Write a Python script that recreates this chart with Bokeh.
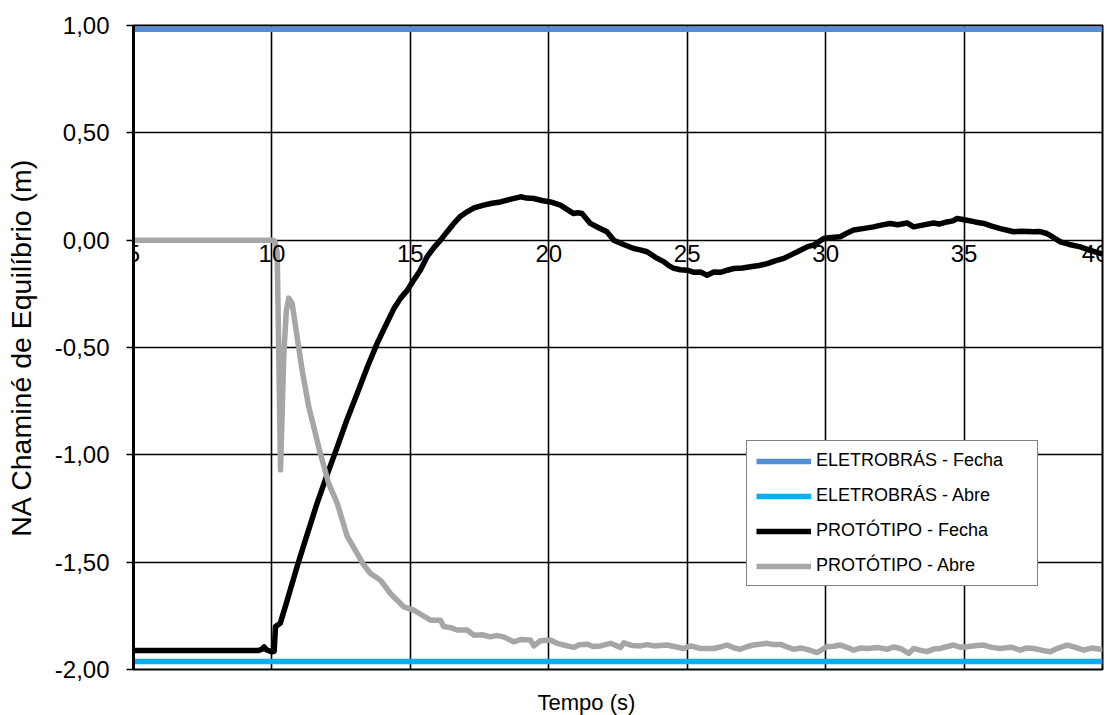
from bokeh.plotting import figure
from bokeh.models import Range1d, FixedTicker, Legend, LegendItem, Title
from bokeh.embed import file_html
from bokeh.resources import INLINE

# ---- data ----
x_ticks = [5, 10, 15, 20, 25, 30, 35, 40]
y_ticks = [-2.0, -1.5, -1.0, -0.5, 0.0, 0.5, 1.0]
y_tick_labels = ["-2,00", "-1,50", "-1,00", "-0,50", "0,00", "0,50", "1,00"]

series_names = ["ELETROBRÁS - Fecha", "ELETROBRÁS - Abre",
                "PROTÓTIPO - Fecha", "PROTÓTIPO - Abre"]

t_eletro = [5.0, 40.0]
v_eletro_fecha = [0.983, 0.983]
v_eletro_abre = [-1.963, -1.963]

t_fecha = [5.0, 9.5, 9.65, 9.72, 9.8, 10.0, 10.08, 10.13, 10.3, 10.5, 10.91, 11.25,
           11.63, 12.0, 12.36, 12.7, 13.08, 13.45, 13.8, 14.1, 14.4, 14.65, 14.88,
           15.1, 15.36, 15.6, 15.85, 16.09, 16.3, 16.57, 16.8, 17.05, 17.3, 17.65,
           17.95, 18.25, 18.6, 18.98, 19.2, 19.46, 19.75, 20.06, 20.42, 20.7, 20.9,
           21.05, 21.2, 21.5, 21.8, 22.1, 22.35, 22.7, 23.07, 23.3, 23.55, 23.85,
           24.15, 24.35, 24.5, 24.75, 25.0, 25.25, 25.48, 25.72, 25.96, 26.2, 26.45,
           26.68, 27.0, 27.28, 27.6, 27.89, 28.2, 28.49, 28.8, 29.09, 29.35, 29.57,
           29.93, 30.2, 30.53, 30.8, 31.01, 31.4, 31.73, 32.0, 32.34, 32.6, 32.94,
           33.18, 33.5, 33.9, 34.1, 34.38, 34.6, 34.75, 35.1, 35.4, 35.71, 36.0,
           36.31, 36.6, 36.79, 37.1, 37.51, 37.75, 37.99, 38.2, 38.48, 38.8, 39.2,
           39.5, 39.92, 40.0]
v_fecha = [-1.912, -1.912, -1.905, -1.895, -1.908, -1.918, -1.915, -1.80, -1.785, -1.70,
           -1.52, -1.38, -1.226, -1.09, -0.963, -0.84, -0.714, -0.59, -0.481, -0.40,
           -0.32, -0.27, -0.235, -0.19, -0.14, -0.078, -0.035, 0.0, 0.035, 0.078, 0.11,
           0.132, 0.15, 0.163, 0.172, 0.178, 0.19, 0.202, 0.196, 0.194, 0.185, 0.178,
           0.163, 0.14, 0.124, 0.128, 0.124, 0.078, 0.058, 0.039, 0.0, -0.02, -0.039,
           -0.045, -0.054, -0.08, -0.10, -0.12, -0.13, -0.138, -0.14, -0.15, -0.148,
           -0.163, -0.148, -0.15, -0.14, -0.132, -0.13, -0.124, -0.118, -0.109, -0.095,
           -0.085, -0.065, -0.047, -0.03, -0.023, 0.008, 0.012, 0.016, 0.035, 0.047,
           0.055, 0.062, 0.07, 0.078, 0.072, 0.08, 0.062, 0.07, 0.08, 0.075, 0.085,
           0.09, 0.101, 0.093, 0.085, 0.078, 0.065, 0.054, 0.045, 0.039, 0.042, 0.039,
           0.04, 0.031, 0.015, -0.008, -0.02, -0.031, -0.045, -0.062, -0.065]

t_abre = [5.0, 10.05, 10.12, 10.19, 10.25, 10.31, 10.36, 10.43, 10.52, 10.61, 10.73,
          10.91, 11.09, 11.33, 11.51, 11.75, 12.05, 12.36, 12.72, 13.08, 13.3, 13.56,
          13.92, 14.28, 14.76, 15.12, 15.4, 15.73, 16.09, 16.2, 16.45, 16.69, 17.05,
          17.29, 17.6, 17.89, 18.1, 18.37, 18.73, 19.0, 19.34, 19.46, 19.7, 20.06,
          20.3, 20.54, 20.9, 21.1, 21.38, 21.6, 21.87, 22.23, 22.59, 22.71, 23.0,
          23.31, 23.55, 23.79, 24.27, 24.6, 24.87, 25.12, 25.48, 25.96, 26.2, 26.44,
          26.7, 26.92, 27.15, 27.4, 27.89, 28.1, 28.37, 28.6, 28.85, 29.1, 29.33,
          29.69, 30.05, 30.3, 30.53, 30.8, 31.01, 31.25, 31.5, 31.9, 32.22, 32.45,
          32.7, 33.0, 33.18, 33.4, 33.66, 33.9, 34.14, 34.4, 34.62, 34.85, 35.1,
          35.4, 35.71, 36.0, 36.31, 36.7, 37.03, 37.25, 37.51, 37.8, 38.11, 38.4,
          38.72, 39.0, 39.32, 39.6, 39.92, 40.0]
v_abre = [0.0, 0.0, -0.01, -0.06, -0.55, -1.07, -0.85, -0.53, -0.33, -0.27, -0.295,
          -0.45, -0.605, -0.776, -0.87, -0.994, -1.133, -1.226, -1.38, -1.46, -1.51,
          -1.553, -1.584, -1.646, -1.708, -1.723, -1.745, -1.77, -1.77, -1.80, -1.805,
          -1.816, -1.816, -1.84, -1.838, -1.848, -1.842, -1.848, -1.871, -1.86, -1.863,
          -1.89, -1.866, -1.863, -1.878, -1.886, -1.897, -1.885, -1.882, -1.893, -1.89,
          -1.878, -1.897, -1.876, -1.888, -1.89, -1.884, -1.89, -1.886, -1.895, -1.902,
          -1.89, -1.902, -1.902, -1.895, -1.886, -1.9, -1.906, -1.894, -1.886, -1.878,
          -1.884, -1.883, -1.895, -1.906, -1.9, -1.906, -1.921, -1.894, -1.892, -1.886,
          -1.898, -1.91, -1.9, -1.902, -1.898, -1.906, -1.895, -1.902, -1.925, -1.902,
          -1.91, -1.917, -1.905, -1.902, -1.893, -1.886, -1.896, -1.894, -1.889, -1.886,
          -1.897, -1.902, -1.896, -1.91, -1.9, -1.902, -1.91, -1.917, -1.9, -1.886,
          -1.896, -1.91, -1.9, -1.906, -1.905]

x_title = "Tempo (s)"
y_title = "NA Chaminé de Equilíbrio (m)"

FONT = "Liberation Sans"

p = figure(width=1108, height=715, output_backend="svg", toolbar_location=None,
           x_range=Range1d(5, 40), y_range=Range1d(-2, 1),
           min_border_left=133, min_border_right=6, min_border_top=25,
           min_border_bottom=46)
p.background_fill_color = "white"
p.border_fill_color = "white"
p.outline_line_color = "black"
p.outline_line_width = 2

# grid
p.xgrid.ticker = FixedTicker(ticks=x_ticks)
p.ygrid.ticker = FixedTicker(ticks=y_ticks)
for g in (p.xgrid, p.ygrid):
    g.grid_line_color = "black"
    g.grid_line_width = 1.6

# x axis at y = 0
xa = p.xaxis[0]
xa.ticker = FixedTicker(ticks=x_ticks)
xa.fixed_location = 0
xa.axis_line_color = None
xa.major_tick_line_color = None
xa.minor_tick_line_color = None
xa.major_tick_in = 0
xa.major_tick_out = 0
xa.major_label_standoff = 5
xa.major_label_text_font = FONT
xa.major_label_text_font_size = "24px"
xa.major_label_text_color = "black"

# y axis
ya = p.yaxis[0]
ya.ticker = FixedTicker(ticks=y_ticks)
ya.major_label_overrides = dict(zip(y_ticks, y_tick_labels))
ya.axis_line_color = "black"
ya.axis_line_width = 3
ya.major_tick_line_color = "black"
ya.major_tick_line_width = 1.5
ya.major_tick_in = 0
ya.major_tick_out = 7
ya.minor_tick_line_color = None
ya.major_label_standoff = 17
ya.major_label_text_font = FONT
ya.major_label_text_font_size = "24px"
ya.major_label_text_color = "black"
ya.axis_label = y_title
ya.axis_label_text_font = FONT
ya.axis_label_text_font_size = "28.5px"
ya.axis_label_text_font_style = "normal"
ya.axis_label_text_color = "black"
ya.axis_label_standoff = 15

# spacer (blank) + x-axis title in the bottom panel
p.add_layout(Title(text=" ", text_font=FONT, text_font_size="1px",
                   standoff=15), "below")
p.add_layout(Title(text=x_title, align="left", text_font=FONT,
                   text_font_size="22px", text_font_style="normal",
                   text_color="black", offset=404, standoff=0), "below")

# series
LW = 5.5
r1 = p.line(t_eletro, v_eletro_fecha, line_color="#558ED5", line_width=LW)
r2 = p.line(t_eletro, v_eletro_abre, line_color="#00B0F0", line_width=LW)
r3 = p.line(t_fecha, v_fecha, line_color="black", line_width=LW, line_join="round")
r4 = p.line(t_abre, v_abre, line_color="#A6A6A6", line_width=LW, line_join="round")

legend = Legend(items=[LegendItem(label=n, renderers=[r]) for n, r in
                       zip(series_names, [r1, r2, r3, r4])],
                location=(613, 83), orientation="vertical")
legend.border_line_color = "black"
legend.border_line_width = 1.5
legend.background_fill_color = "white"
legend.background_fill_alpha = 1.0
legend.padding = 9
legend.margin = 0
legend.spacing = 14
legend.glyph_width = 55
legend.glyph_height = 20
legend.label_height = 20
legend.label_width = 212
legend.label_standoff = 5
legend.label_text_font = FONT
legend.label_text_font_size = "18px"
legend.label_text_color = "black"
p.add_layout(legend, "center")

open("out.html", "w").write(file_html(p, INLINE))
